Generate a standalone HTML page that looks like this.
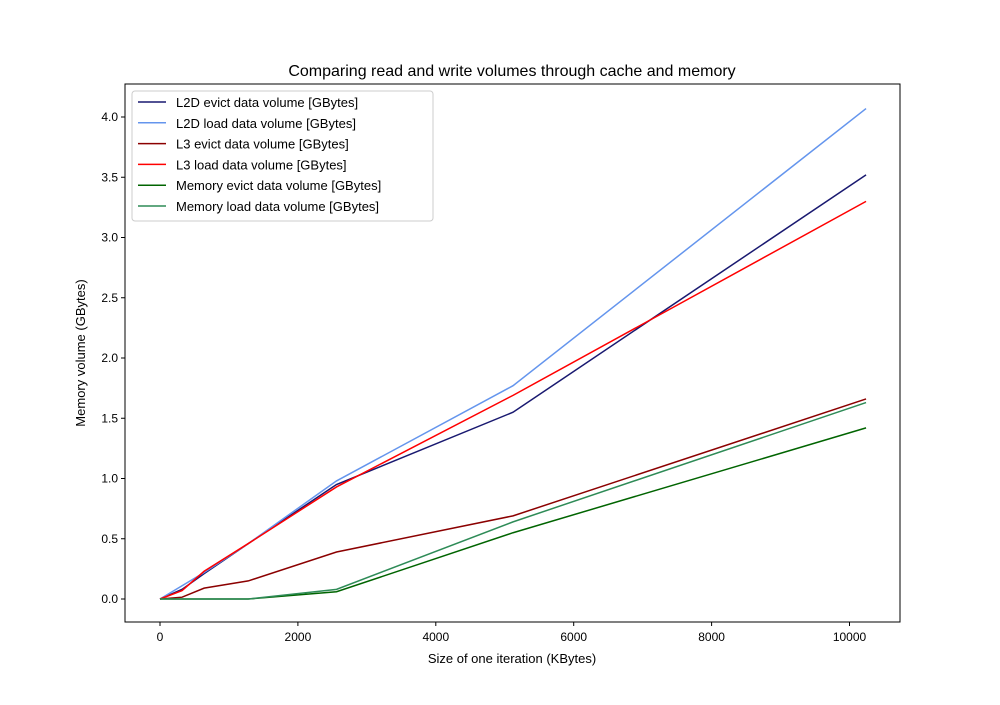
<!DOCTYPE html>
<html><head><meta charset="utf-8"><style>body{margin:0;background:#fff}svg{font-family:"Liberation Sans","DejaVu Sans",sans-serif}</style></head>
<body>
<svg id="chart" width="1000" height="700" xmlns="http://www.w3.org/2000/svg">
<rect width="1000" height="700" fill="#fff"/>
<text x="512" y="76" font-size="16" text-anchor="middle">Comparing read and write volumes through cache and memory</text>
<text x="512" y="663" font-size="13" text-anchor="middle">Size of one iteration (KBytes)</text>
<text x="85" y="353" font-size="13" text-anchor="middle" transform="rotate(-90 85 353)">Memory volume (GBytes)</text>
<g id="marks"></g>
<rect x="125" y="84" width="775" height="538" fill="none" stroke="#000" stroke-width="1"/>
<g id="legend"></g>
</svg>
<script>
const xs = [0, 320, 640, 1280, 2560, 5120, 10240];
const names = ["L2D evict data volume [GBytes]","L2D load data volume [GBytes]","L3 evict data volume [GBytes]","L3 load data volume [GBytes]","Memory evict data volume [GBytes]","Memory load data volume [GBytes]"];
const colors = ["#191970","#6495ed","#8b0000","#ff0000","#006400","#2e8b57"];
const l2dEvict = [0, 0.08, 0.21, 0.46, 0.95, 1.55, 3.52];
const l2dLoad = [0, 0.11, 0.22, 0.46, 0.98, 1.77, 4.07];
const l3Evict = [0, 0.015, 0.09, 0.15, 0.39, 0.69, 1.66];
const l3Load = [0, 0.07, 0.23, 0.46, 0.93, 1.69, 3.30];
const memEvict = [0, 0, 0, 0, 0.06, 0.55, 1.42];
const memLoad = [0, 0, 0, 0, 0.08, 0.64, 1.63];
const xTicks = [0, 2000, 4000, 6000, 8000, 10000];
const yTicks = [0, 0.5, 1.0, 1.5, 2.0, 2.5, 3.0, 3.5, 4.0];
const series = [l2dEvict, l2dLoad, l3Evict, l3Load, memEvict, memLoad];
const NS = "http://www.w3.org/2000/svg";
const X = v => 160 + v * 0.06895;
const Y = v => 599 - v * 120.5;
const marks = document.getElementById('marks');
const svg = document.getElementById('chart');
function mk(tag, attrs, parent){const e=document.createElementNS(NS,tag);for(const k in attrs)e.setAttribute(k,attrs[k]);parent.appendChild(e);return e;}
xTicks.forEach(t=>{
  const g=mk('g',{},svg);
  
  
  mk('line',{x1:X(t),x2:X(t),y1:622,y2:626,stroke:'#000'},g);
  const tx=mk('text',{x:X(t),y:641,'font-size':12,'text-anchor':'middle'},g);tx.textContent=t;
});
yTicks.forEach(t=>{
  const g=mk('g',{},svg);
  
  
  mk('line',{x1:121,x2:125,y1:Y(t),y2:Y(t),stroke:'#000'},g);
  const tx=mk('text',{x:118,y:Y(t)+4,'font-size':12,'text-anchor':'end'},g);tx.textContent=t.toFixed(1);
});
series.forEach((s,i)=>{
  const p=mk('polyline',{points:s.map((v,j)=>X(xs[j])+','+Y(v)).join(' '),fill:'none',stroke:colors[i],'stroke-width':1.5},marks);
  
  
});
const lg=document.getElementById('legend');
const bx=mk('rect',{x:132,y:91,width:301,height:130,fill:'#fff',stroke:'#ccc',rx:3},lg);


names.forEach((n,i)=>{
  const g=mk('g',{},lg);
  
  
  const y=102+i*20.8;
  mk('line',{x1:138,x2:166,y1:y,y2:y,stroke:colors[i],'stroke-width':1.5},g);
  const t=mk('text',{x:176,y:y+5,'font-size':13},g);t.textContent=n;
});
</script>
</body></html>
